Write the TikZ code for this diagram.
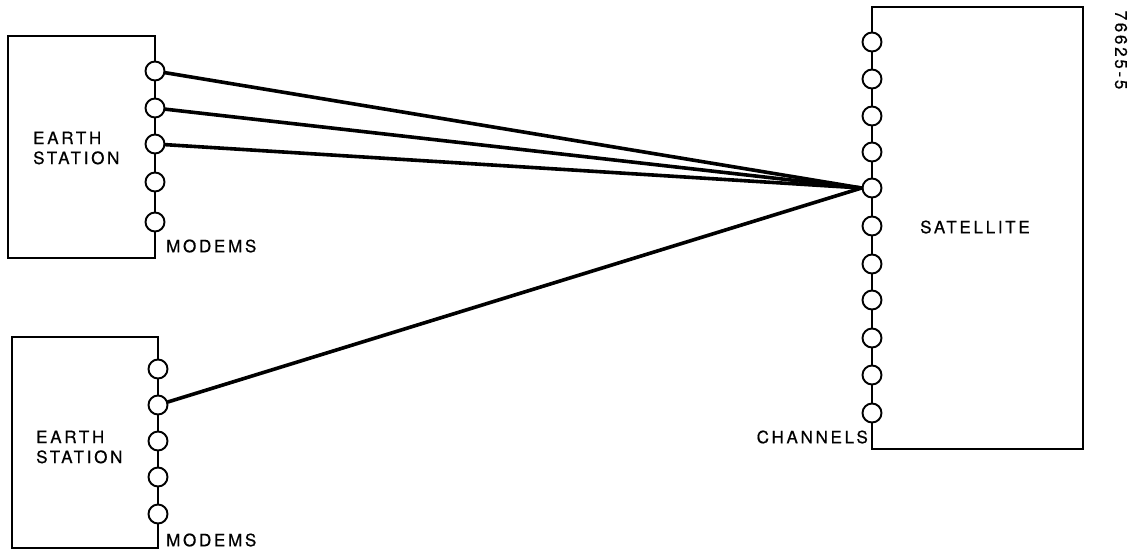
\documentclass[tikz,border=0pt]{standalone}
\usepackage{fontspec}
\newfontfamily\labfont[LetterSpace=16,FakeBold=0.6]{TeX Gyre Heros}
\begin{document}
\begin{tikzpicture}[x=1pt,y=-1pt,
  boxline/.style={line width=1.9pt},
  port/.style={circle,draw,fill=white,line width=1.9pt,minimum size=19pt,inner sep=0pt},
  link/.style={line width=3.6pt,line cap=round},
  lab/.style={inner sep=0pt,font=\labfont\fontsize{17}{20}\selectfont},
]
\useasboundingbox (0,0) rectangle (1139,558);
% top earth station
\draw[boxline] (155,36) -- (8,36) -- (8,258) -- (155,258) -- cycle;
\foreach \i/\y in {1/71,2/108,3/144,4/182,5/222}
  \node[port] (t\i) at (155,\y) {};
\node[lab,anchor=west,align=left] (es1) at (33,148) {EARTH\\STATION};
\node[lab,anchor=west] (m1) at (166,246) {MODEMS};
% bottom earth station
\draw[boxline] (158,337) -- (12,337) -- (12,548) -- (158,548) -- cycle;
\foreach \i/\y in {1/369,2/405,3/441,4/477,5/514}
  \node[port] (b\i) at (158,\y) {};
\node[lab,anchor=west,align=left] (es2) at (36,447) {EARTH\\STATION};
\node[lab,anchor=west] (m2) at (166,540) {MODEMS};
% satellite
\draw[boxline] (872,7) -- (1083,7) -- (1083,449) -- (872,449) -- cycle;
\foreach \i/\y in {1/42,2/79,3/116,4/152,5/188,6/226,7/264,8/300,9/338,10/375,11/413}
  \node[port] (s\i) at (872,\y) {};
\node[lab] (sat) at (975,227) {SATELLITE};
\node[lab,anchor=east] (ch) at (868,437) {CHANNELS};
\node[lab,rotate=-90] (fig) at (1121,50) {76625-5};
% links
\draw[link] (t1) -- (s5.west);
\draw[link] (t2) -- (s5.west);
\draw[link] (t3) -- (s5.west);
\draw[link] (b2) -- (s5.west);
\end{tikzpicture}
\end{document}
